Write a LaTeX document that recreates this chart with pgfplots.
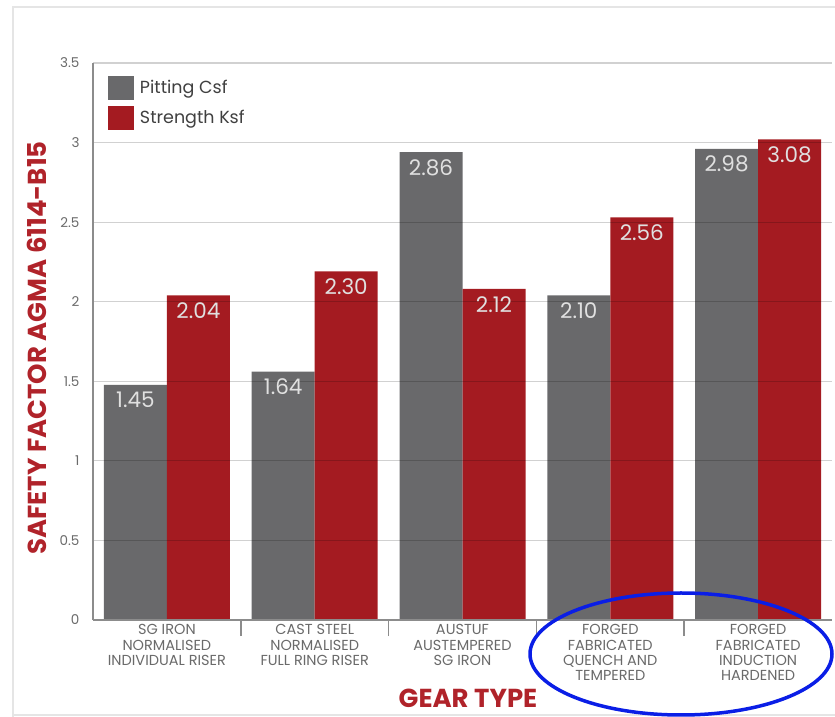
\documentclass[border=0pt]{standalone}
\usepackage{fontspec}
\setmainfont{Poppins}
\usepackage{pgfplots}
\pgfplotsset{compat=1.18}
\definecolor{barGray}{HTML}{69696B}
\definecolor{barRed}{HTML}{A41B21}
\definecolor{labRed}{HTML}{B0232A}
\definecolor{tickGray}{HTML}{6A6A6A}
\definecolor{ringBlue}{HTML}{0A1EE6}

\begin{document}
\begin{tikzpicture}[x=1pt,y=1pt]
\useasboundingbox (0,0) rectangle (835,717);
% faint frame of the figure
\draw[line width=2pt, black!10] (13,-5) -- (13,710) -- (850,710);
\draw[line width=2pt, black!10] (13,2) -- (850,2);
\begin{axis}[
  at={(93pt,97pt)}, anchor=south west,
  width=739pt, height=557pt, scale only axis,
  ybar=0pt, bar width=63pt,
  xmin=-0.5, xmax=4.5, ymin=0, ymax=3.5,
  axis x line*=bottom, axis y line*=left,
  axis line style={black!45, line width=1.5pt},
  axis on top,
  ymajorgrids,
  grid style={black, opacity=0.18, line width=1.2pt},
  ytick={0,0.5,1,1.5,2,2.5,3,3.5},
  major tick length=0pt,
  /pgf/number format/assume math mode=true,
  yticklabel style={font=\fontsize{13.5}{14}\selectfont, text=tickGray, xshift=-10pt},
  xtick={0,1,2,3,4},
  xticklabels={{SG IRON\\NORMALISED\\INDIVIDUAL RISER},
               {CAST STEEL\\NORMALISED\\FULL RING RISER},
               {AUSTUF\\AUSTEMPERED\\SG IRON},
               {FORGED\\FABRICATED\\QUENCH AND\\TEMPERED},
               {FORGED\\FABRICATED\\INDUCTION\\HARDENED}},
  xticklabel style={align=center, font=\fontsize{14.5}{15.3}\selectfont, text=tickGray, yshift=-1pt},
  extra x ticks={0.5,1.5,2.5,3.5},
  extra x tick labels={},
  extra x tick style={major tick length=16pt, tick align=outside, grid=none,
                      tick style={black!45, line width=1.5pt}},
  nodes near coords,
  point meta=explicit symbolic,
  every node near coord/.append style={anchor=north, inner sep=0pt, yshift=-7pt,
                      font=\fontsize{21.5}{21.5}\selectfont, text=white!88!black},
  legend cell align=left,
  legend style={at={(0.02,0.977)}, anchor=north west, draw=none, fill=none,
                inner sep=0pt, row sep=6pt,
                font=\fontsize{17.5}{17.5}\selectfont, text=black!75,
                /tikz/every odd column/.append style={column sep=4pt}},
  legend image code/.code={\fill[#1] (0pt,-12pt) rectangle (26pt,12pt);},
]
\addplot[fill=barGray, draw=none] coordinates {
  (0,1.477) [1.45]
  (1,1.56)  [1.64]
  (2,2.94)  [2.86]
  (3,2.04)  [2.10]
  (4,2.96)  [2.98]
};
\addplot[fill=barRed, draw=none] coordinates {
  (0,2.04) [2.04]
  (1,2.19) [2.30]
  (2,2.08) [2.12]
  (3,2.53) [2.56]
  (4,3.02) [3.08]
};
\legend{Pitting Csf, Strength Ksf}
\end{axis}
\node[rotate=90, font=\bfseries\fontsize{26}{26}\selectfont, text=labRed] at (37,369) {SAFETY FACTOR AGMA 6114-B15};
\node[font=\bfseries\fontsize{26}{26}\selectfont, text=labRed] at (468,19) {GEAR TYPE};
\draw[ringBlue, line width=3.5pt] (681,63) ellipse [x radius=151pt, y radius=61pt];
\end{tikzpicture}
\end{document}
